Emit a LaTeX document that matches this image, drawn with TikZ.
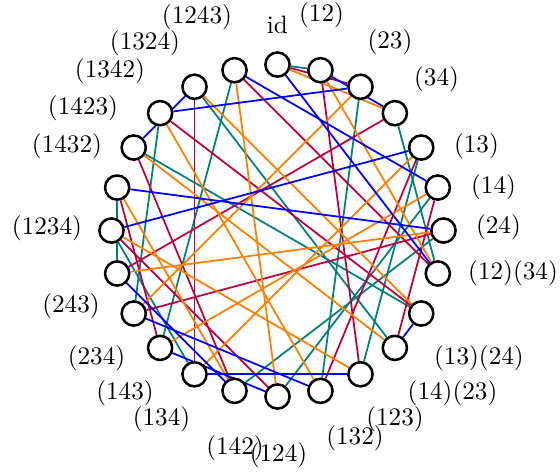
\documentclass[tikz,border=0pt]{standalone}
\usetikzlibrary{backgrounds}
\tikzset{
  vertex/.style={circle, draw, line width=1pt, fill=white, minimum size=9.6pt, inner sep=0pt},
  gen/.style={draw=#1, line width=0.7pt},
  gen/.default=blue,
  tag/.style={inner sep=0pt},
}
\begin{document}
\begin{tikzpicture}
  \useasboundingbox (-3.87,-3.354) rectangle (3.94,3.215);
  % the 24 elements, clockwise from the identity
  \foreach \i in {0,...,23}
    \node[vertex] (v\i) at ({90-15*\i}:2.315) {};
  \foreach \x/\y/\t [count=\i from 0] in {
      0.00/2.866/id, 0.614/3.006/(12), 1.569/2.629/(23), 2.218/2.113/(34),
      2.775/1.179/(13), 3.013/0.600/(14), 3.082/0.042/(24), 3.285/-0.593/(12)(34),
      2.810/-1.778/(13)(24), 2.441/-2.273/(14)(23), 1.639/-2.629/(123), 1.081/-2.901/(132),
      0.014/-3.131/(124), -0.593/-3.040/(142), -1.618/-2.629/(134), -2.127/-2.273/(143),
      -2.524/-1.778/(234), -2.880/-1.053/(243), -3.215/0.035/(1234), -2.936/1.172/(1432),
      -2.713/1.702/(1423), -2.336/2.225/(1342), -1.848/2.608/(1324), -1.123/2.971/(1243)}
    \node[tag] (l\i) at (\x,\y) {\t};
  % right multiplication by the generators
  \begin{scope}[on background layer]
    \foreach \a/\b in {0/1, 2/11, 3/7, 4/10, 5/12, 6/13, 8/20, 9/22, 14/18, 15/23, 16/21, 17/19}
      \draw[gen=teal] (v\a) -- (v\b);
    \foreach \a/\b in {0/2, 1/10, 3/17, 4/11, 5/9, 6/16, 7/23, 8/21, 12/18, 13/20, 14/22, 15/19}
      \draw[gen=purple] (v\a) -- (v\b);
    \foreach \a/\b in {0/3, 1/7, 2/16, 4/14, 5/15, 6/17, 8/22, 9/20, 10/18, 11/21, 12/23, 13/19}
      \draw[gen=orange] (v\a) -- (v\b);
    \foreach \a/\b in {0/7, 1/3, 2/21, 4/18, 5/23, 6/19, 8/9, 10/14, 11/16, 12/15, 13/17, 20/22}
      \draw[gen] (v\a) -- (v\b);
  \end{scope}
\end{tikzpicture}
\end{document}
